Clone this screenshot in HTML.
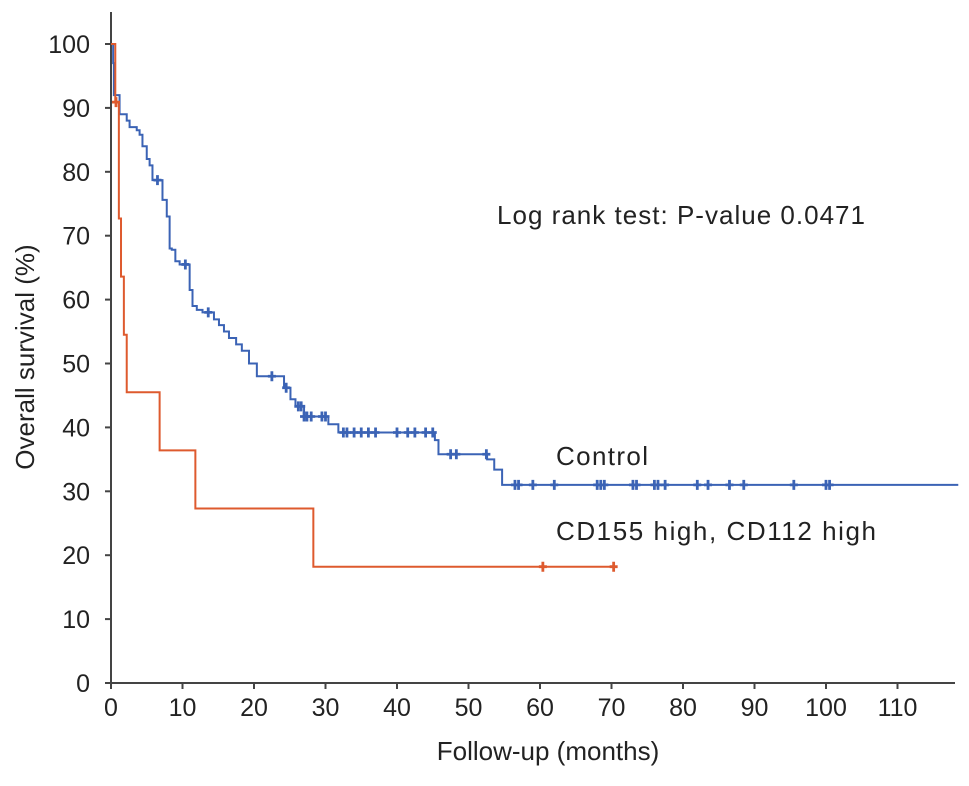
<!DOCTYPE html>
<html><head><meta charset="utf-8"><style>
body{margin:0;background:#fff}
svg text{font-family:"Liberation Sans",Arial,sans-serif;fill:#222}
</style></head><body>
<svg id="chart" width="969" height="781" viewBox="0 0 969 781" xmlns="http://www.w3.org/2000/svg">
<g id="axes"></g>
<g id="series"></g>
<text x="0" y="0" font-size="26" text-anchor="middle" transform="translate(34,357) rotate(-90)">Overall survival (%)</text>
<text x="548" y="760" font-size="26" text-anchor="middle">Follow-up (months)</text>
<text x="497" y="224" font-size="26" textLength="368">Log rank test: P-value 0.0471</text>
<text x="556" y="465" font-size="26" textLength="92">Control</text>
<text x="556" y="540" font-size="26" textLength="320">CD155 high, CD112 high</text>
</svg>
<script>
const xTicks=[0,10,20,30,40,50,60,70,80,90,100,110];
const yTicks=[0,10,20,30,40,50,60,70,80,90,100];
const controlTimes=[0.3,0.4,1.2,2.2,2.6,3.6,4.0,4.4,5.0,5.4,5.8,7.2,7.8,8.2,8.5,9.0,9.6,11.0,11.4,12.0,12.8,14.4,15.1,15.8,16.5,17.5,18.3,19.3,20.4,24.2,25.1,25.8,27.0,30.4,31.8,45.3,45.8,52.6,53.6,54.7];
const controlSurv=[97,92,89,88,87,86.5,85.8,84,82,81,78.7,75.6,73,68,67.8,66,65.5,61.5,59,58.4,58,56.9,56,55,54,53,52,50,48,46.2,44.4,43.3,41.7,40.5,39.2,38,35.8,35,33.4,31];
const controlCensor=[6.5,10.4,13.6,22.5,24.5,26.2,26.6,27.0,27.4,28.0,29.5,30.0,32.5,33,34,35,36,37,40,41.5,42.5,44,45,47.5,48.3,52.5,56.5,57,59,62,68,68.5,69,73,73.5,76,76.5,77.5,82,83.5,86.5,88.5,95.5,100,100.5];
const controlEnd=118.5;
const highTimes=[0.6,1.1,1.4,1.8,2.2,6.8,11.8,28.3];
const highSurv=[90.9,72.7,63.6,54.5,45.5,36.4,27.3,18.2];
const highCensor=[0.7,60.4,70.3];
const highEnd=70.5;

const X0=111,Y0=683,PX=7.15,PY=6.39;
const sx=t=>X0+t*PX, sy=v=>Y0-v*PY;
const NS="http://www.w3.org/2000/svg";
const axes=document.getElementById('axes'), series=document.getElementById('series');
function mk(tag,attrs,parent){const e=document.createElementNS(NS,tag);for(const k in attrs)e.setAttribute(k,attrs[k]);parent.appendChild(e);return e;}
const xl=mk('line',{x1:X0,y1:Y0,x2:955,y2:Y0,stroke:'#444','stroke-width':2},axes);


const yl=mk('line',{x1:X0,y1:Y0,x2:X0,y2:12,stroke:'#444','stroke-width':2},axes);


xTicks.forEach(t=>{
  const l=mk('line',{x1:sx(t),y1:Y0,x2:sx(t),y2:Y0+6,stroke:'#444','stroke-width':2},axes);
  
  
  const tx=mk('text',{x:sx(t),y:Y0+33,'font-size':25,'text-anchor':'middle'},axes);tx.textContent=t;
  
  
});
yTicks.forEach(v=>{
  const l=mk('line',{x1:X0-6,y1:sy(v),x2:X0,y2:sy(v),stroke:'#444','stroke-width':2},axes);
  
  
  const tx=mk('text',{x:90,y:sy(v)+9,'font-size':25,'text-anchor':'end'},axes);tx.textContent=v;
  
  
});
function stepPath(times,surv,end){
  let d=`M${sx(0)},${sy(100)}`;
  times.forEach((t,i)=>{d+=` H${sx(t)} V${sy(surv[i])}`;});
  d+=` H${sx(end)}`;return d;
}
function survAt(times,surv,t){let s=100;times.forEach((tt,i)=>{if(tt<=t)s=surv[i];});return s;}
function drawSeries(times,surv,end,cens,color,name){
  const p=mk('path',{d:stepPath(times,surv,end),fill:'none',stroke:color,'stroke-width':2},series);
  
  
  cens.forEach(t=>{
    const x=sx(t),y=sy(survAt(times,surv,t));
    const c=mk('path',{d:`M${x-4},${y}H${x+4}M${x},${y-5}V${y+5}`,stroke:color,'stroke-width':2.8},series);
    
    
  });
}
drawSeries(controlTimes,controlSurv,controlEnd,controlCensor,'#3b63b5','control');
drawSeries(highTimes,highSurv,highEnd,highCensor,'#de5a2e','cd155-cd112-high');
</script>
</body></html>
